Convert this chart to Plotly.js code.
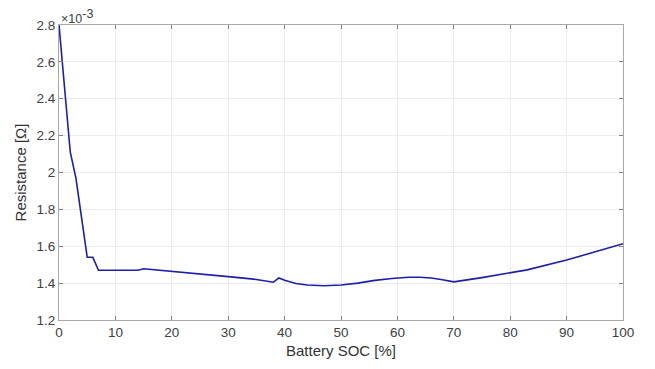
<!DOCTYPE html>
<html><head><meta charset="utf-8">
<script src="https://cdn.plot.ly/plotly-3.0.1.min.js"></script>
<style>body{margin:0;background:#fff}#c{width:655px;height:369px}</style>
</head><body><div id="c"></div>
<script>
const soc = [0, 1, 2, 3, 4, 5, 6, 7, 10, 14, 15, 20, 25, 30, 35, 38, 39, 40, 42, 44, 47, 50, 53, 56, 59, 62, 64, 66, 68, 70, 75, 80, 82, 83, 90, 100];
const resistance = [2.80, 2.45, 2.11, 1.97, 1.75, 1.54, 1.54, 1.47, 1.47, 1.47, 1.478, 1.465, 1.45, 1.435, 1.42, 1.405, 1.428, 1.415, 1.398, 1.39, 1.386, 1.39, 1.40, 1.415, 1.425, 1.432, 1.432, 1.428, 1.418, 1.407, 1.43, 1.455, 1.468, 1.472, 1.525, 1.614];
const xTicks = [0, 10, 20, 30, 40, 50, 60, 70, 80, 90, 100];
const yTicks = [1.2, 1.4, 1.6, 1.8, 2.0, 2.2, 2.4, 2.6, 2.8];
const yTickLabels = ['1.2', '1.4', '1.6', '1.8', '2', '2.2', '2.4', '2.6', '2.8'];

Plotly.newPlot('c', [{
  x: soc, y: resistance, type: 'scatter', mode: 'lines',
  line: {color: '#1e1eaa', width: 1.6}, hoverinfo: 'skip'
}], {
  width: 655, height: 369,
  margin: {l: 59, r: 32, t: 25, b: 49},
  paper_bgcolor: '#fff', plot_bgcolor: '#fff',
  font: {family: 'Liberation Sans, Arial, sans-serif', color: '#404040', size: 13},
  showlegend: false,
  xaxis: {
    range: [0, 100], tickvals: xTicks, ticktext: xTicks.map(String),
    showgrid: true, gridcolor: '#ececec', gridwidth: 1, zeroline: false,
    showline: true, linecolor: '#a8a8a8', linewidth: 1, mirror: 'ticks',
    ticks: 'inside', ticklen: 4, tickcolor: '#808080',
    tickfont: {size: 13.5, color: '#404040'},
    title: {text: 'Battery SOC [%]', font: {size: 15, color: '#333'}, standoff: 6}
  },
  yaxis: {
    range: [1.2, 2.8], tickvals: yTicks, ticktext: yTickLabels,
    showgrid: true, gridcolor: '#ececec', gridwidth: 1, zeroline: false,
    showline: true, linecolor: '#a8a8a8', linewidth: 1, mirror: 'ticks',
    ticks: 'inside', ticklen: 4, tickcolor: '#808080',
    tickfont: {size: 13.5, color: '#404040'},
    title: {text: 'Resistance [Ω]', font: {size: 15, color: '#333'}, standoff: 6}
  },
  annotations: [{
    xref: 'paper', yref: 'paper', x: 0, y: 1, xanchor: 'left', yanchor: 'bottom',
    xshift: 0, yshift: -3,
    text: '×10<sup><span style="font-size:12.5px">-3</span></sup>', showarrow: false, font: {size: 12.5, color: '#404040'}
  }]
}, {staticPlot: true});
</script></body></html>
